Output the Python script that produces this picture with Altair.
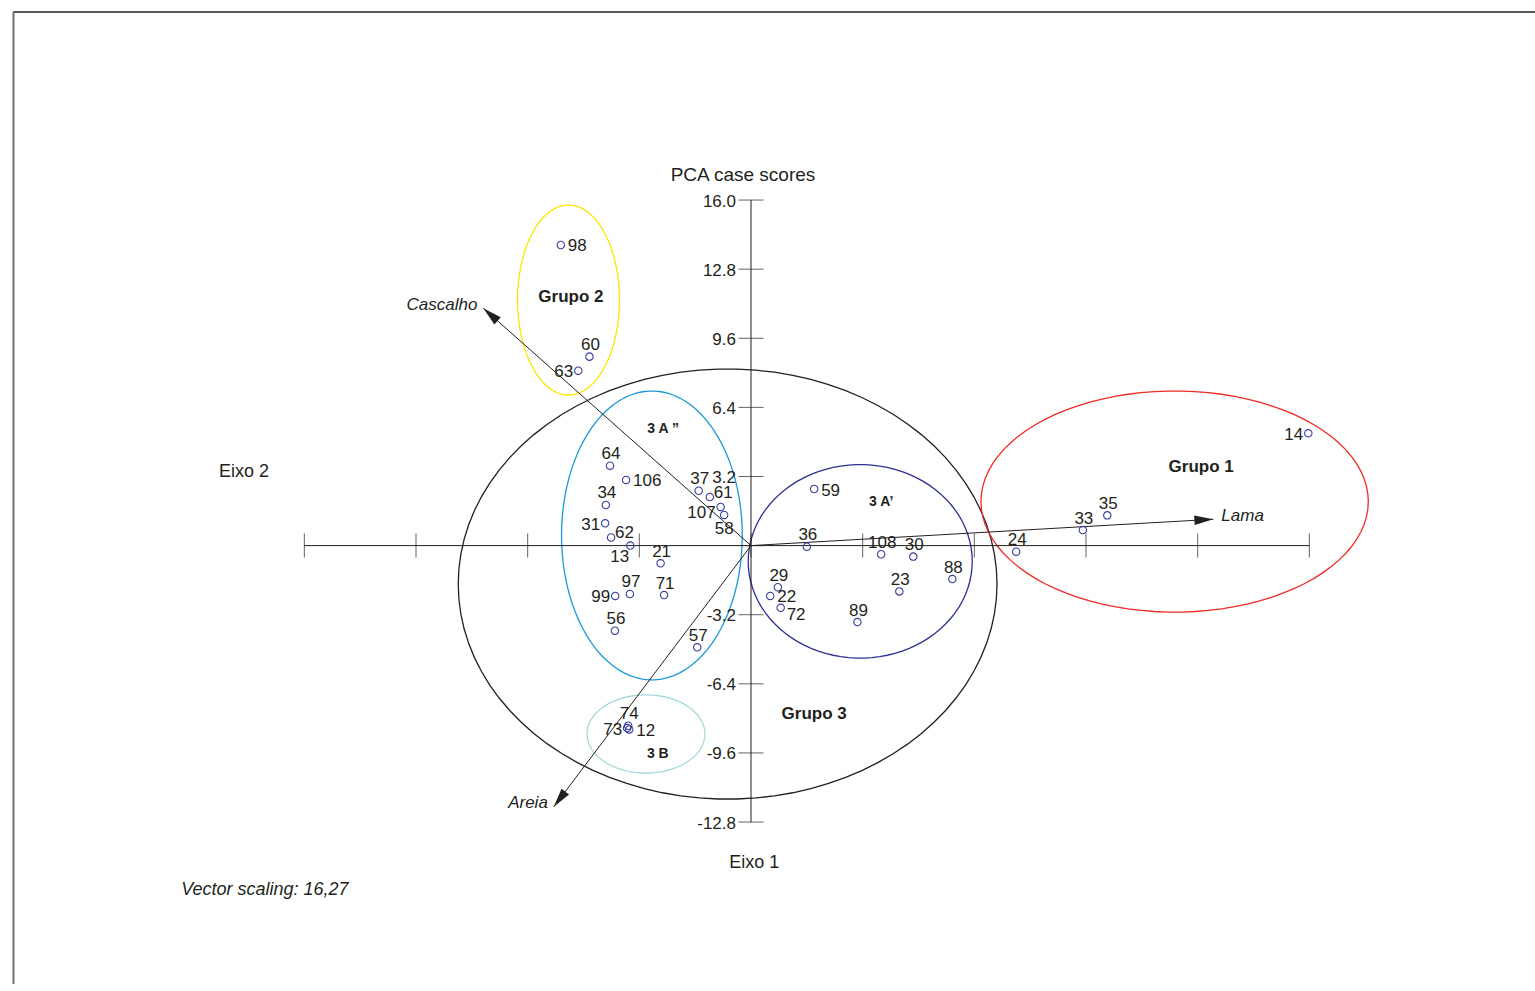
import math
import altair as alt
import pandas as pd

# ---------------- data ----------------
ids = ["98", "60", "63", "64", "106", "34", "31", "62", "13", "21", "37", "61",
       "107", "58", "97", "99", "71", "56", "57", "74", "12", "73", "59", "36",
       "108", "30", "88", "23", "29", "22", "72", "89", "14", "35", "33", "24"]
axis1 = [-5.45, -4.63, -4.95, -4.04, -3.58, -4.16, -4.18, -4.01, -3.46, -2.59, -1.50, -1.18,
         -0.87, -0.77, -3.47, -3.89, -2.49, -3.90, -1.54, -3.52, -3.49, -3.55, 1.81, 1.60,
         3.73, 4.65, 5.77, 4.25, 0.77, 0.55, 0.85, 3.05, 15.97, 10.21, 9.51, 7.60]
axis2 = [13.92, 8.75, 8.10, 3.70, 3.04, 1.88, 1.03, 0.38, 0.00, -0.82, 2.54, 2.25,
         1.79, 1.42, -2.24, -2.33, -2.29, -3.94, -4.71, -8.34, -8.51, -8.45, 2.62, -0.05,
         -0.40, -0.51, -1.55, -2.12, -1.93, -2.33, -2.88, -3.54, 5.20, 1.40, 0.72, -0.28]

tick_values = [-12.8, -9.6, -6.4, -3.2, 0.0, 3.2, 6.4, 9.6, 12.8, 16.0]
tick_labels = ["-12.8", "-9.6", "-6.4", "-3.2", "", "3.2", "6.4", "9.6", "12.8", "16.0"]

vec_names = ["Lama", "Cascalho", "Areia"]
vec_x = [13.25, -7.67, -5.65]
vec_y = [1.22, 10.99, -12.09]

ell_names = ["Grupo 2", "3 A''", "3 B", "3 A'", "Grupo 3", "Grupo 1"]
ell_cx = [-5.23, -2.84, -3.01, 3.13, -0.67, 12.14]
ell_cy = [11.37, 0.47, -8.72, -0.73, -1.78, 2.04]
ell_rx = [1.46, 2.59, 1.69, 3.21, 7.72, 5.55]
ell_ry = [4.40, 6.69, 1.81, 4.48, 9.96, 5.12]
ell_colors = ["#ffe500", "#1b9ad6", "#a7d8dc", "#2e3192", "#231f20", "#ee2b24"]

group_text = ["Grupo 2", "Grupo 1", "Grupo 3"]
group_x = [-5.16, 12.90, 1.81]
group_y = [11.56, 3.73, -7.72]

sub_text = ["3 A \u201d", "3 A\u2019", "3 B"]
sub_x = [-2.52, 3.73, -2.67]
sub_y = [5.45, 2.07, -9.56]

# label placement (style, not data)
placement = {"98": "r", "106": "r", "12": "r", "59": "r", "22": "r",
             "63": "l", "31": "l", "99": "l", "73": "l", "14": "l",
             "62": "tr", "61": "tr", "13": "bl", "107": "lb", "58": "b", "72": "br"}

# ---------------- layout ----------------
W, H = 1535, 984
OX, OY = 751.0, 545.6      # pixel of origin
KX, KY = 34.896, 21.597    # pixels per unit
x_dom = [-OX / KX, (W - OX) / KX]
y_dom = [-(H - OY) / KY, OY / KY]

FONT = "Liberation Sans"
TXT = "#231f20"
YOFF = 1.5

xs = alt.Scale(domain=x_dom, nice=False, zero=False)
ys = alt.Scale(domain=y_dom, nice=False, zero=False)


def X(f, **kw):
    return alt.X(f, type="quantitative", scale=xs, axis=None, **kw)


def Y(f, **kw):
    return alt.Y(f, type="quantitative", scale=ys, axis=None, **kw)


pts = pd.DataFrame({"id": ids, "a1": axis1, "a2": axis2})
pts["pl"] = [placement.get(i, "t") for i in ids]

ticks = pd.DataFrame({"v": tick_values, "lab": tick_labels})
ends = pd.DataFrame({"x0": [tick_values[0]], "x1": [tick_values[-1]], "z": [0.0]})

vec = pd.DataFrame({"name": vec_names, "x": vec_x, "y": vec_y})
vec["ang"] = [(math.degrees(math.atan2(-y * KY, x * KX)) + 360) % 360 for x, y in zip(vec_x, vec_y)]
vec["o"] = 0.0

ell = pd.DataFrame({"g": ell_names, "cx": ell_cx, "cy": ell_cy, "rx": ell_rx, "ry": ell_ry})

# frame
frame_top = alt.Chart(pd.DataFrame({"a": [0]})).mark_rule(color="#231f20", strokeWidth=1.5).encode(
    x=alt.value(13), x2=alt.value(W), y=alt.value(12))
frame_left = alt.Chart(pd.DataFrame({"a": [0]})).mark_rule(color="#6d6e71", strokeWidth=2).encode(
    x=alt.value(13.5), y=alt.value(12), y2=alt.value(H + 10))

# ellipses
ellipses = alt.Chart(ell).transform_calculate(
    t="sequence(0, 364, 4)"
).transform_flatten(["t"]).transform_calculate(
    ex="datum.cx + datum.rx * cos(datum.t * PI / 180)",
    ey="datum.cy + datum.ry * sin(datum.t * PI / 180)",
).mark_line(strokeWidth=1.3, interpolate="linear").encode(
    x=X("ex"), y=Y("ey"),
    detail="g:N", order="t:Q",
    color=alt.Color("g:N", scale=alt.Scale(domain=ell_names, range=ell_colors), legend=None),
)

# axes
hline = alt.Chart(ends).mark_rule(color="#231f20", strokeWidth=1).encode(x=X("x0"), x2="x1", y=Y("z"))
vline = alt.Chart(ends).mark_rule(color="#231f20", strokeWidth=1).encode(y=Y("x0"), y2="x1", x=X("z"))
xticks = alt.Chart(ticks).transform_calculate(z="0").mark_tick(
    orient="vertical", size=24, thickness=1, color="#231f20").encode(x=X("v"), y=Y("z"))
yticks = alt.Chart(ticks).transform_calculate(z="0").mark_tick(
    orient="horizontal", size=25, thickness=1, color="#231f20").encode(y=Y("v"), x=X("z"))
ylabels = alt.Chart(ticks).transform_calculate(z="0").mark_text(
    align="right", baseline="middle", dx=-15, dy=YOFF, font=FONT, fontSize=17, color=TXT).encode(
    y=Y("v"), x=X("z"), text="lab:N")

# vectors
arrows = alt.Chart(vec).mark_rule(color="#231f20", strokeWidth=1).encode(
    x=X("o"), y=Y("o"), x2="x", y2="y")
heads = alt.Chart(vec).mark_point(
    shape="M0,0 L-1,-0.25 L-1,0.25 Z", filled=True, size=1444, opacity=1, color="#231f20").encode(
    x=X("x"), y=Y("y"), angle=alt.Angle("ang:Q", scale=None))
vlab_r = alt.Chart(vec).transform_filter("datum.name == 'Lama'").mark_text(
    align="left", baseline="middle", dx=8, dy=-5 + YOFF, font=FONT, fontSize=17, fontStyle="italic",
    color=TXT).encode(x=X("x"), y=Y("y"), text="name:N")
vlab_l = alt.Chart(vec).transform_filter("datum.name != 'Lama'").mark_text(
    align="right", baseline="middle", dx=-6, dy=-5 + YOFF, font=FONT, fontSize=17, fontStyle="italic",
    color=TXT).encode(x=X("x"), y=Y("y"), text="name:N")

# points
points = alt.Chart(pts).mark_point(shape="circle", size=55, strokeWidth=1.1, color="#3b3d9c", opacity=1).encode(
    x=X("a1"), y=Y("a2"))

label_styles = {
    "t": dict(align="center", dx=1, dy=-13),
    "r": dict(align="left", dx=7, dy=0),
    "l": dict(align="right", dx=-5, dy=0),
    "tr": dict(align="left", dx=4, dy=-6),
    "bl": dict(align="right", dx=-1, dy=10),
    "lb": dict(align="right", dx=-5, dy=5),
    "b": dict(align="center", dx=0, dy=13),
    "br": dict(align="left", dx=6, dy=6),
}
label_layers = []
for key, st in label_styles.items():
    st = dict(st)
    st["dy"] = st["dy"] + YOFF
    label_layers.append(
        alt.Chart(pts).transform_filter(f"datum.pl == '{key}'").mark_text(
            baseline="middle", font=FONT, fontSize=17, color=TXT, **st).encode(
            x=X("a1"), y=Y("a2"), text="id:N"))

grp = alt.Chart(pd.DataFrame({"t": group_text, "x": group_x, "y": group_y})).mark_text(
    font=FONT, fontSize=17, fontWeight="bold", color=TXT, baseline="middle", dy=YOFF).encode(
    x=X("x"), y=Y("y"), text="t:N")
sub = alt.Chart(pd.DataFrame({"t": sub_text, "x": sub_x, "y": sub_y})).mark_text(
    font=FONT, fontSize=14, fontWeight="bold", color=TXT, baseline="middle", dy=YOFF).encode(
    x=X("x"), y=Y("y"), text="t:N")

titles = pd.DataFrame({
    "t": ["PCA case scores", "Eixo 2", "Eixo 1"],
    "x": [-0.23, -14.53, 0.09],
    "y": [17.25, 3.50, -14.61],
    "s": [19, 18, 18],
})
title_layer = alt.Chart(titles).mark_text(
    font=FONT, color=TXT, baseline="middle", dy=YOFF).encode(
    x=X("x"), y=Y("y"), text="t:N", size=alt.Size("s:Q", scale=None, legend=None))
note = alt.Chart(pd.DataFrame({"t": ["Vector scaling: 16,27"], "x": [-16.33], "y": [-15.86]})).mark_text(
    font=FONT, fontSize=18, fontStyle="italic", color=TXT, align="left", baseline="middle", dy=YOFF).encode(
    x=X("x"), y=Y("y"), text="t:N")

chart = alt.layer(
    frame_top, frame_left, ellipses, hline, vline, xticks, yticks, ylabels,
    arrows, heads, vlab_r, vlab_l, points, *label_layers, grp, sub, title_layer, note
).properties(
    width=W, height=H, padding=0, autosize=alt.AutoSizeParams(type="none"), background="white"
).configure_view(stroke=None)

chart.save("out.html", embed_options={"renderer": "svg", "actions": False})
